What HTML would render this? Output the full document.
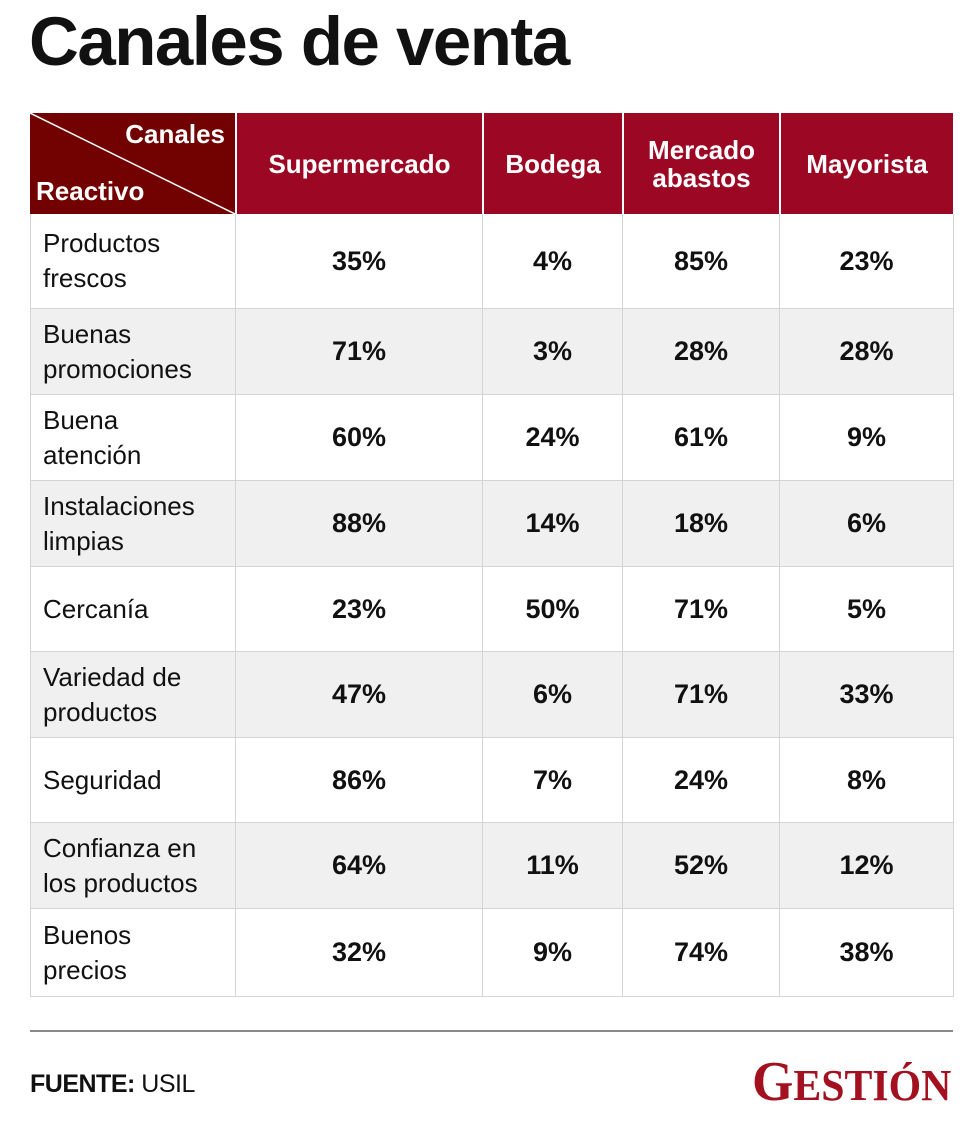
<!DOCTYPE html>
<html><head><meta charset="utf-8">
<style>
body{margin:0;width:980px;height:1125px;background:#fff;position:relative;overflow:hidden;font-family:"Liberation Sans",sans-serif;color:#111}
.a{position:absolute}
#title{left:29px;top:2px;font-size:69px;font-weight:bold;letter-spacing:-1.5px;color:#111}
.hc{position:absolute;background:#9c0823;color:#fff;font-weight:bold;font-size:26px;display:flex;align-items:center;justify-content:center;text-align:center;line-height:28px;box-sizing:border-box;border-left:2px solid #fff}
.c{position:absolute;box-sizing:border-box;border-left:1px solid #d4d4d4;border-bottom:1px solid #d4d4d4;display:flex;align-items:center;justify-content:center;font-size:27px;font-weight:bold}
.lab{justify-content:flex-start;padding-left:12px;font-weight:normal;font-size:26px;line-height:35px}
</style></head><body>
<div id="title" class="a">Canales de venta</div>
<div id="tbl"></div>
<div class="a" style="left:30px;top:1030px;width:923px;height:2px;background:#8a8a8a"></div>
<div class="a" style="left:30px;top:1070px;font-size:25px;letter-spacing:-0.5px"><b>FUENTE:</b> USIL</div>
<div class="a" style="left:752px;top:1050px;font-family:'Liberation Serif',serif;font-weight:bold;color:#a3101f;white-space:nowrap;transform:scaleX(0.95);transform-origin:left"><span style="font-size:56px">G</span><span style="font-size:44px">ESTIÓN</span></div>
<script>
const channels=["Supermercado","Bodega","Mercado<br>abastos","Mayorista"];
const reactivos=["Productos<br>frescos","Buenas<br>promociones","Buena<br>atención","Instalaciones<br>limpias","Cercanía","Variedad de<br>productos","Seguridad","Confianza en<br>los productos","Buenos<br>precios"];
const supermercado=[35,71,60,88,23,47,86,64,32];
const bodega=[4,3,24,14,50,6,7,11,9];
const mercado=[85,28,61,18,71,71,24,52,74];
const mayorista=[23,28,9,6,5,33,8,12,38];
const series=[supermercado,bodega,mercado,mayorista];
const colX=[30,235,482,622,779,953];
const rowY=[214,309,395,481,567,652,738,823,909,997];
const t=document.getElementById('tbl');
const corner=document.createElement('div');


corner.className='a';
corner.style.cssText='left:30px;top:113px;width:205px;height:101px;background:#720202;color:#fff;font-weight:bold;font-size:26px';
corner.innerHTML='<svg width="205" height="101" style="position:absolute;left:0;top:0"><line x1="0" y1="0" x2="205" y2="101" stroke="#fff" stroke-width="1.5"/></svg><span style="position:absolute;right:10px;top:6px">Canales</span><span style="position:absolute;left:6px;bottom:7px">Reactivo</span>';
t.appendChild(corner);
channels.forEach((ch,i)=>{
  const h=document.createElement('div');
  
  
  h.className='hc';
  h.style.left=colX[i+1]+'px';h.style.top='113px';
  h.style.width=(colX[i+2]-colX[i+1])+'px';h.style.height='101px';
  h.innerHTML=ch;
  t.appendChild(h);
});
reactivos.forEach((r,j)=>{
  const y=rowY[j],hgt=rowY[j+1]-y,bg=j%2?'#f0f0f0':'#fff';
  const l=document.createElement('div');
  
  
  l.className='c lab';
  l.style.cssText+=`left:30px;top:${y}px;width:205px;height:${hgt}px;background:${bg}`;
  l.innerHTML=r;
  t.appendChild(l);
  series.forEach((s,i)=>{
    const c=document.createElement('div');
    
    
    c.className='c';
    const w=colX[i+2]-colX[i+1]+(i==3?1:0);
    c.style.cssText+=`left:${colX[i+1]}px;top:${y}px;width:${w}px;height:${hgt}px;background:${bg};${i==3?'border-right:1px solid #d4d4d4;':''}`;
    c.textContent=s[j]+'%';
    t.appendChild(c);
  });
});
</script>
</body></html>
